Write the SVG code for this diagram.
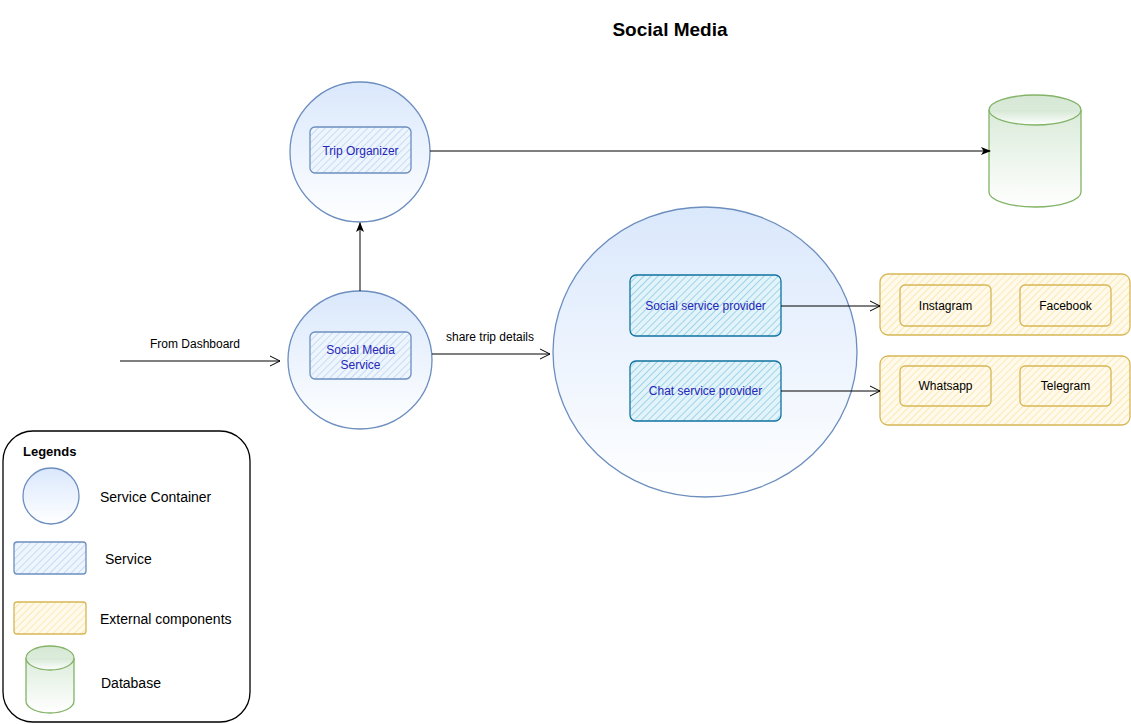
<svg xmlns="http://www.w3.org/2000/svg" width="1131" height="724" viewBox="0 0 1131 724">
<defs>
<linearGradient id="gBlue" x1="0" y1="0" x2="0" y2="1">
<stop offset="0" stop-color="#dae8fc"/><stop offset="1" stop-color="#ffffff"/>
</linearGradient>
<linearGradient id="gGreen" x1="0" y1="0" x2="0" y2="1">
<stop offset="0" stop-color="#d5e8d4"/><stop offset="1" stop-color="#ffffff"/>
</linearGradient>
<pattern id="hBlue" patternUnits="userSpaceOnUse" width="5" height="5" patternTransform="rotate(45)">
<rect width="5" height="5" fill="#eef5fd"/><line x1="0" y1="0" x2="0" y2="5" stroke="#c5dcf5" stroke-width="2"/>
</pattern>
<pattern id="hTeal" patternUnits="userSpaceOnUse" width="5" height="5" patternTransform="rotate(45)">
<rect width="5" height="5" fill="#e3f3fa"/><line x1="0" y1="0" x2="0" y2="5" stroke="#9fd3ea" stroke-width="2"/>
</pattern>
<pattern id="hYellow" patternUnits="userSpaceOnUse" width="5" height="5" patternTransform="rotate(45)">
<rect width="5" height="5" fill="#fffaeb"/><line x1="0" y1="0" x2="0" y2="5" stroke="#fbe8b4" stroke-width="2"/>
</pattern>
<marker id="open" viewBox="0 0 12 12" refX="11" refY="6" markerWidth="12" markerHeight="12" markerUnits="userSpaceOnUse" orient="auto">
<path d="M1,1 L11,6 L1,11" fill="none" stroke="#000" stroke-width="1"/>
</marker>
<marker id="solid" viewBox="0 0 10 10" refX="9" refY="5" markerWidth="10" markerHeight="10" markerUnits="userSpaceOnUse" orient="auto">
<path d="M0,1 L10,5 L0,9 L2.5,5 Z" fill="#000"/>
</marker>
</defs>
<style>
text{font-family:"Liberation Sans",Arial,sans-serif;}
.container{fill:url(#gBlue);stroke:#6c8ebf;stroke-width:1.3;}
.svc{fill:url(#hBlue);stroke:#6c8ebf;stroke-width:1.3;}
.prov{fill:url(#hTeal);stroke:#10739e;stroke-width:1.3;}
.ext{fill:url(#hYellow);stroke:#d6b656;stroke-width:1.3;}
.db{fill:url(#gGreen);stroke:#82b366;stroke-width:1.3;}
.in{font-size:12px;fill:#2626b8;text-anchor:middle;}
.lbl{font-size:12px;fill:#000;text-anchor:middle;}
.leg{font-size:14px;fill:#000;}
.edge{fill:none;stroke:#000;stroke-width:1;}
</style>
<rect width="1131" height="724" fill="#ffffff"/>
<text x="670" y="36" font-size="19" font-weight="bold" text-anchor="middle">Social Media</text>

<g id="trip-organizer">
<circle class="container" cx="360" cy="152" r="70"/>
<rect class="svc" x="310" y="127" width="101" height="46" rx="5"/>
<text class="in" x="360.5" y="155">Trip Organizer</text>
</g>

<g id="social-media-service">
<ellipse class="container" cx="360" cy="360" rx="72" ry="69"/>
<rect class="svc" x="310" y="332" width="101" height="47" rx="5"/>
<text class="in" x="360.5" y="354">Social Media</text>
<text class="in" x="360.5" y="369">Service</text>
</g>

<g id="provider-container">
<ellipse class="container" cx="705" cy="352" rx="152" ry="145"/>
</g>
<g id="social-service-provider">
<rect class="prov" x="630" y="275" width="151" height="61" rx="6"/>
<text class="in" x="705.5" y="310">Social service provider</text>
</g>
<g id="chat-service-provider">
<rect class="prov" x="630" y="361" width="151" height="60" rx="6"/>
<text class="in" x="705.5" y="395">Chat service provider</text>
</g>

<g id="social-external">
<rect class="ext" x="880" y="274" width="250" height="61" rx="8"/>
</g>
<g id="instagram">
<rect class="ext" x="900" y="285" width="91" height="41" rx="5"/>
<text class="lbl" x="945.5" y="310">Instagram</text>
</g>
<g id="facebook">
<rect class="ext" x="1020" y="285" width="91" height="41" rx="5"/>
<text class="lbl" x="1065.5" y="310">Facebook</text>
</g>
<g id="chat-external">
<rect class="ext" x="880" y="356" width="250" height="69" rx="8"/>
</g>
<g id="whatsapp">
<rect class="ext" x="900" y="366" width="91" height="40" rx="5"/>
<text class="lbl" x="945.5" y="390">Whatsapp</text>
</g>
<g id="telegram">
<rect class="ext" x="1020" y="366" width="91" height="40" rx="5"/>
<text class="lbl" x="1065.5" y="390">Telegram</text>
</g>

<g id="database">
<path class="db" d="M989,110 A46,15 0 0 1 1081,110 L1081,192 A46,15 0 0 1 989,192 Z"/>
<path class="db" d="M989,110 A46,15 0 0 0 1081,110" fill="none"/>
</g>

<g id="connectors">
<path class="edge" d="M120,361 L280,361" marker-end="url(#open)"/>
<text class="lbl" x="195" y="348">From Dashboard</text>
<path class="edge" d="M432,354 L550,354" marker-end="url(#open)"/>
<text class="lbl" x="490" y="341">share trip details</text>
<path class="edge" d="M360,291 L360,223" marker-end="url(#solid)"/>
<path class="edge" d="M430,151 L990,151" marker-end="url(#solid)"/>
<path class="edge" d="M781,306 L880,306" marker-end="url(#open)"/>
<path class="edge" d="M781,391 L880,391" marker-end="url(#open)"/>
</g>

<g id="legend">
<rect x="3" y="431" width="247" height="291" rx="30" fill="#ffffff" stroke="#000" stroke-width="1.3"/>
<text x="23" y="456" font-size="13" font-weight="bold">Legends</text>
<circle class="container" cx="51" cy="496" r="28"/>
<text class="leg" x="100" y="502">Service Container</text>
<rect class="svc" x="14" y="542" width="72" height="32" rx="3"/>
<text class="leg" x="105" y="564">Service</text>
<rect class="ext" x="14" y="602" width="72" height="32" rx="3"/>
<text class="leg" x="100" y="624">External components</text>
<path class="db" d="M26,658 A24,12 0 0 1 74,658 L74,701 A24,12 0 0 1 26,701 Z"/>
<path class="db" d="M26,658 A24,12 0 0 0 74,658" fill="none"/>
<text class="leg" x="101" y="688">Database</text>
</g>
</svg>
